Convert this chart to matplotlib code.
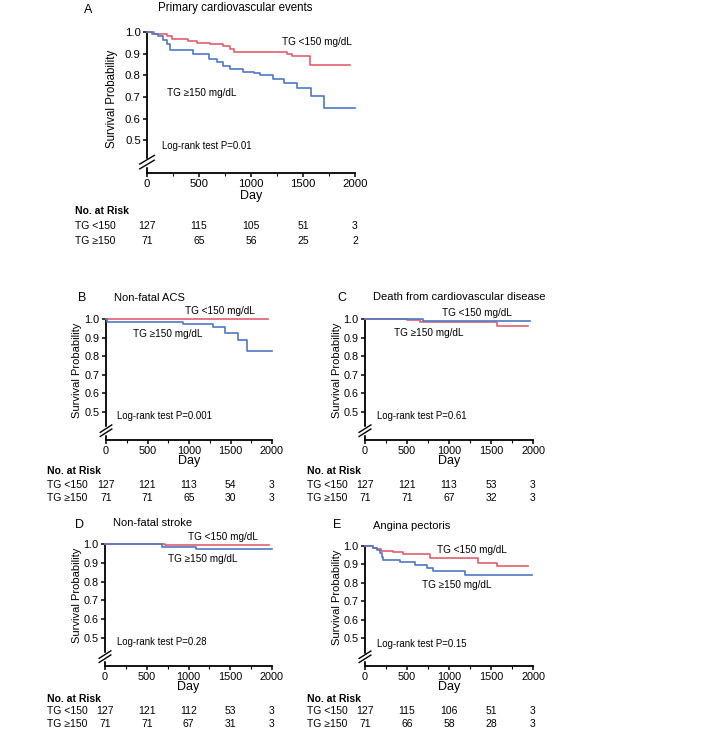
import numpy as np
import matplotlib.pyplot as plt
import matplotlib as mpl

mpl.rcParams.update({'font.family': ['Liberation Sans', 'DejaVu Sans'], 'font.size': 8})

W, H = 701, 736
red = '#e0606e'
blue = '#4f78c4'

# ---- data (day, survival) ----
a_red_t = [0, 70, 190, 240, 394, 481, 606, 731, 800, 840, 1350, 1390, 1570, 1955]
a_red_s = [1.0, 0.99, 0.98, 0.97, 0.96, 0.95, 0.945, 0.935, 0.92, 0.91, 0.90, 0.89, 0.85, 0.85]
a_blue_t = [0, 45, 104, 150, 190, 221, 440, 600, 673, 731, 800, 920, 1030, 1090, 1212, 1320, 1445, 1575, 1700, 2000]
a_blue_s = [1.0, 0.99, 0.98, 0.965, 0.945, 0.915, 0.90, 0.875, 0.86, 0.845, 0.83, 0.815, 0.81, 0.80, 0.785, 0.765, 0.74, 0.705, 0.65, 0.65]

b_red_t = [0, 1952]
b_red_s = [1.0, 1.0]
b_blue_t = [0, 10, 928, 1289, 1434, 1590, 1699, 2000]
b_blue_s = [1.0, 0.985, 0.972, 0.957, 0.925, 0.888, 0.83, 0.83]

c_red_t = [0, 500, 655, 1571, 1940]
c_red_s = [1.0, 0.995, 0.985, 0.965, 0.965]
c_blue_t = [0, 690, 1960]
c_blue_s = [1.0, 0.987, 0.987]

d_red_t = [0, 723, 1964]
d_red_s = [1.0, 0.994, 0.994]
d_blue_t = [0, 687, 1084, 2000]
d_blue_s = [1.0, 0.985, 0.971, 0.971]

e_red_t = [0, 95, 139, 190, 333, 452, 774, 1345, 1571, 1940]
e_red_s = [1.0, 0.99, 0.985, 0.975, 0.965, 0.955, 0.935, 0.91, 0.89, 0.89]
e_blue_t = [0, 95, 140, 179, 200, 218, 417, 595, 738, 810, 1190, 1988]
e_blue_s = [1.0, 0.99, 0.98, 0.96, 0.94, 0.925, 0.915, 0.895, 0.88, 0.865, 0.843, 0.843]

risk_days = [0, 500, 1000, 1500, 2000]
a_risk_lo = [127, 115, 105, 51, 3]
a_risk_hi = [71, 65, 56, 25, 2]
b_risk_lo = [127, 121, 113, 54, 3]
b_risk_hi = [71, 71, 65, 30, 3]
c_risk_lo = [127, 121, 113, 53, 3]
c_risk_hi = [71, 71, 67, 32, 3]
d_risk_lo = [127, 121, 112, 53, 3]
d_risk_hi = [71, 71, 67, 31, 3]
e_risk_lo = [127, 115, 106, 51, 3]
e_risk_hi = [71, 66, 58, 28, 3]

fig = plt.figure(figsize=(W / 100, H / 100), dpi=100)


def fx(x):
    return x / W


def fy(y):
    return 1 - y / H


def panel(box, letter, title, red_t, red_s, blue_t, blue_s, lo, hi, txt, big=False):
    # box: left, top, right, bottom in pixels; txt: dict of pixel positions
    l, t, r, b = box
    ax = fig.add_axes([fx(l), fy(b), fx(r) - fx(l), fy(t) - fy(b)])
    ax.plot(red_t, red_s, drawstyle='steps-post', color=red, lw=1.2, clip_on=False, zorder=3)
    ax.plot(blue_t, blue_s, drawstyle='steps-post', color=blue, lw=1.2, clip_on=False, zorder=3)
    ax.set_xlim(0, 2000)
    ax.set_ylim(0.35, 1.0)
    for s in ['top', 'right']:
        ax.spines[s].set_visible(False)
    for s in ['left', 'bottom']:
        ax.spines[s].set_linewidth(1.3)
    ax.set_yticks([0.5, 0.6, 0.7, 0.8, 0.9, 1.0])
    ax.yaxis.set_major_formatter(mpl.ticker.FormatStrFormatter('%.1f'))
    ax.set_xticks([0, 500, 1000, 1500, 2000])
    ax.set_xticks([250, 750, 1250, 1750], minor=True)
    fs = 8.2 if big else 7.8
    ax.tick_params(axis='both', which='major', direction='out', length=3, width=1.1, labelsize=fs, pad=1.5)
    ax.tick_params(axis='x', which='minor', direction='out', length=1.8, width=0.8)
    # axis break
    yb = 0.40
    ax.plot([0, 0], [yb - 0.012, yb + 0.012], color='white', lw=2.5, clip_on=False, zorder=4,
            transform=ax.get_yaxis_transform())
    for dy in (-0.011, 0.011):
        ax.plot([-0.035, 0.035], [yb + dy - 0.02, yb + dy + 0.02], color='black', lw=1.0,
                clip_on=False, zorder=5, transform=ax.get_yaxis_transform())
    tfs = 8.3 if big else 8.0
    fig.text(fx(txt['letter'][0]), fy(txt['letter'][1]), letter, fontsize=9, ha='center', va='center')
    fig.text(fx(txt['title'][0]), fy(txt['title'][1]), title, fontsize=tfs, ha='left', va='center')
    fig.text(fx(txt['ylab'][0]), fy(txt['ylab'][1]), 'Survival Probability', fontsize=tfs,
             rotation=90, ha='center', va='center')
    fig.text(fx((l + r) / 2), fy(txt['day']), 'Day', fontsize=9, ha='center', va='center')
    fig.text(fx(txt['lo'][0]), fy(txt['lo'][1]), 'TG <150 mg/dL', fontsize=7.2, ha='left', va='center')
    fig.text(fx(txt['hi'][0]), fy(txt['hi'][1]), 'TG \u2265150 mg/dL', fontsize=7.2, ha='left', va='center')
    fig.text(fx(txt['lr'][0]), fy(txt['lr'][1]), txt['lrtext'], fontsize=6.9, ha='left', va='center')
    # risk table
    rx, ry = txt['risk']
    fig.text(fx(rx), fy(ry), 'No. at Risk', fontsize=7.5, fontweight='bold', ha='left', va='center')
    fig.text(fx(rx), fy(ry + txt['rowgap']), 'TG <150', fontsize=7.5, ha='left', va='center')
    fig.text(fx(rx), fy(ry + 2 * txt['rowgap']), 'TG \u2265150', fontsize=7.5, ha='left', va='center')
    tr = mpl.transforms.blended_transform_factory(ax.transData, fig.transFigure)
    for d, n1, n2 in zip(risk_days, lo, hi):
        ax.text(d, fy(ry + txt['rowgap']), str(n1), transform=tr, fontsize=7.5, ha='center', va='center')
        ax.text(d, fy(ry + 2 * txt['rowgap']), str(n2), transform=tr, fontsize=7.5, ha='center', va='center')
    return ax


panel((147, 32, 355, 173), 'A', 'Primary cardiovascular events', a_red_t, a_red_s, a_blue_t, a_blue_s,
      a_risk_lo, a_risk_hi,
      dict(letter=(88, 10), title=(158, 8), ylab=(112, 99), day=196, lo=(282, 42), hi=(167, 93),
           lr=(162, 146), lrtext='Log-rank test P=0.01', risk=(75, 211), rowgap=15), big=True)

panel((106, 319, 272, 440), 'B', 'Non-fatal ACS', b_red_t, b_red_s, b_blue_t, b_blue_s,
      b_risk_lo, b_risk_hi,
      dict(letter=(82, 298), title=(114, 298), ylab=(77, 370), day=461, lo=(185, 311), hi=(133, 334),
           lr=(117, 416), lrtext='Log-rank test P=0.001', risk=(47, 471), rowgap=13.5))

panel((365, 319, 533, 440), 'C', 'Death from cardiovascular disease', c_red_t, c_red_s, c_blue_t, c_blue_s,
      c_risk_lo, c_risk_hi,
      dict(letter=(342, 298), title=(373, 297), ylab=(337, 370), day=461, lo=(442, 313), hi=(394, 333),
           lr=(377, 416), lrtext='Log-rank test P=0.61', risk=(307, 471), rowgap=13.5))

panel((105, 544, 272, 666), 'D', 'Non-fatal stroke', d_red_t, d_red_s, d_blue_t, d_blue_s,
      d_risk_lo, d_risk_hi,
      dict(letter=(79, 525), title=(113, 523), ylab=(77, 595), day=687, lo=(188, 537), hi=(168, 559),
           lr=(117, 642), lrtext='Log-rank test P=0.28', risk=(47, 699), rowgap=12.5))

panel((365, 546, 533, 666), 'E', 'Angina pectoris', e_red_t, e_red_s, e_blue_t, e_blue_s,
      e_risk_lo, e_risk_hi,
      dict(letter=(337, 525), title=(373, 526), ylab=(337, 597), day=687, lo=(437, 550), hi=(422, 585),
           lr=(377, 644), lrtext='Log-rank test P=0.15', risk=(307, 699), rowgap=12.5))

fig.savefig('out.png', dpi=100)
